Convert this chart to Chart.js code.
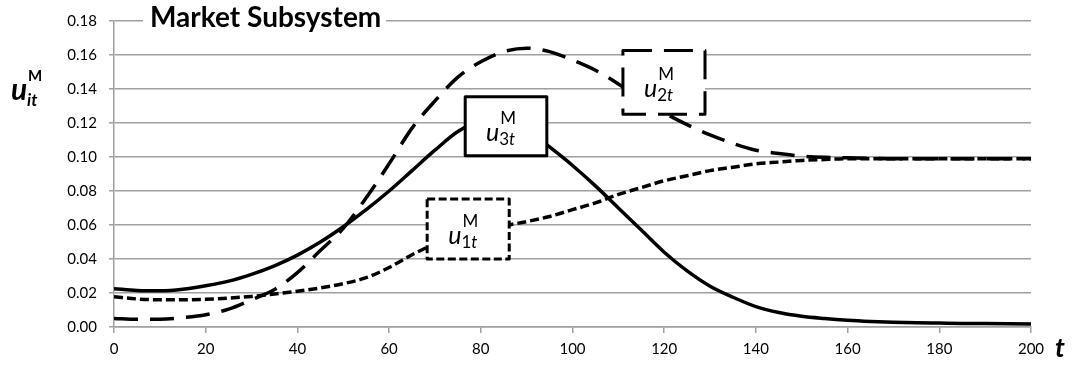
<!DOCTYPE html>
<html><head><meta charset="utf-8">
<script src="https://cdn.jsdelivr.net/npm/chart.js@4.4.1/dist/chart.umd.min.js"></script>
<style>html,body{margin:0;padding:0;background:#fff;}canvas{display:block;}</style>
</head><body>
<canvas id="c" width="1072" height="367"></canvas>
<script>
// ---- data ----
const tValues  = [0,5,10,15,20,25,30,35,40,45,50,55,60,65,70,75,80,85,90,95,100,105,110,115,120,125,130,135,140,145,150,155,160,165,170,175,180,185,190,195,200];
const u1Values = [0.0178,0.0165,0.0160,0.0160,0.0163,0.0170,0.0180,0.0194,0.0210,0.0230,0.0255,0.0290,0.0350,0.0425,0.0490,0.0540,0.0570,0.0595,0.0620,0.0650,0.0690,0.0730,0.0780,0.0820,0.0860,0.0890,0.0920,0.0940,0.0960,0.0970,0.0980,0.0985,0.0990,0.0990,0.0990,0.0990,0.0990,0.0990,0.0990,0.0990,0.0990];
const u2Values = [0.0050,0.0045,0.0045,0.0055,0.0072,0.0105,0.0160,0.0220,0.0320,0.0450,0.0580,0.0760,0.0960,0.1170,0.1330,0.1470,0.1560,0.1620,0.1640,0.1620,0.1570,0.1510,0.1430,0.1340,0.1260,0.1190,0.1130,0.1080,0.1040,0.1020,0.1005,0.0998,0.0995,0.0992,0.0990,0.0990,0.0990,0.0990,0.0990,0.0990,0.0990];
const u3Values = [0.0225,0.0215,0.0213,0.0222,0.0243,0.0270,0.0310,0.0360,0.0423,0.0500,0.0590,0.0690,0.0800,0.0920,0.1040,0.1150,0.1210,0.1220,0.1170,0.1060,0.0950,0.0830,0.0700,0.0570,0.0440,0.0330,0.0240,0.0175,0.0120,0.0085,0.0063,0.0050,0.0040,0.0033,0.0028,0.0025,0.0023,0.0021,0.0020,0.0019,0.0018];
const xTickValues = [0,20,40,60,80,100,120,140,160,180,200];
const yTickValues = [0,0.02,0.04,0.06,0.08,0.10,0.12,0.14,0.16,0.18];
const titleText = 'Market Subsystem';
const seriesLabels = ['1t','2t','3t'];

const GRID = '#a0a0a0';
const pts = vals => tValues.map((t,i)=>({x:t,y:vals[i]}));

function drawBox(ctx, chart, t0, t1, v0, v1, dash, sub){
  const xs = chart.scales.x, ys = chart.scales.y;
  const x0 = xs.getPixelForValue(t0), x1 = xs.getPixelForValue(t1);
  const y0 = ys.getPixelForValue(v1), y1 = ys.getPixelForValue(v0);
  ctx.save();
  ctx.fillStyle = '#fff';
  ctx.fillRect(x0, y0, x1-x0, y1-y0);
  ctx.setLineDash(dash);
  ctx.lineWidth = 3;
  ctx.strokeStyle = '#000';
  ctx.lineJoin = 'round';
  ctx.strokeRect(x0, y0, x1-x0, y1-y0);
  ctx.setLineDash([]);
  const cx = (x0+x1)/2, cy = (y0+y1)/2;
  const B = cy + 15, ux = cx - 20;
  ctx.fillStyle = '#000';
  ctx.textBaseline = 'alphabetic';
  ctx.font = 'italic 25px Lato';
  ctx.fillText('u', ux, B);
  const w = ctx.measureText('u').width;
  ctx.font = '17px Lato';
  ctx.fillText('M', ux + w + 1, B - 17);
  const num = sub.slice(0, -1);
  ctx.fillText(num, ux + w, B + 4);
  const w2 = ctx.measureText(num).width;
  ctx.font = 'italic 17px Lato';
  ctx.fillText('t', ux + w + w2, B + 4);
  ctx.restore();
}

const deco = {
  id: 'deco',
  beforeDraw(chart){
    const c = chart.ctx; c.save(); c.fillStyle = '#fff'; c.fillRect(0,0,chart.width,chart.height); c.restore();
  },
  afterDraw(chart){
    const ctx = chart.ctx;
    ctx.save();
    // title with white backing
    ctx.fillStyle = '#fff';
    ctx.fillRect(143, 2, 243, 30);
    ctx.font = 'bold 28px Lato';
    const tw = ctx.measureText(titleText).width;
    const fs = 28 * 231 / tw;
    ctx.font = 'bold ' + fs.toFixed(1) + 'px Lato';
    ctx.fillStyle = '#000';
    ctx.textBaseline = 'alphabetic';
    ctx.fillText(titleText, 150, 27);
    // y axis label
    ctx.font = 'italic bold 30px Lato';
    ctx.fillText('u', 11, 100);
    ctx.font = 'bold 15px Lato';
    ctx.fillText('M', 28, 81);
    ctx.font = 'italic bold 17px Lato';
    ctx.fillText('it', 27, 106);
    // x axis label
    ctx.font = 'italic bold 27px Lato';
    ctx.fillText('t', 1055, 357);
    ctx.restore();
    // annotation boxes
    drawBox(ctx, chart, 68.3, 86.2, 0.0400, 0.0753, [8,3.5], seriesLabels[0]);
    drawBox(ctx, chart, 76.6, 94.4, 0.1007, 0.1355, [], seriesLabels[2]);
    drawBox(ctx, chart, 111.0, 128.9, 0.1251, 0.1627, [29,12], seriesLabels[1]);
  }
};

new Chart(document.getElementById('c').getContext('2d'), {
  type: 'line',
  data: {
    datasets: [
      {label:'u3', data: pts(u3Values), borderColor:'#000', borderWidth:3.5, pointRadius:0, cubicInterpolationMode:'monotone', fill:false},
      {label:'u2', data: pts(u2Values), borderColor:'#000', borderWidth:3.5, pointRadius:0, cubicInterpolationMode:'monotone', fill:false, borderDash:[24,12]},
      {label:'u1', data: pts(u1Values), borderColor:'#000', borderWidth:3.5, pointRadius:0, cubicInterpolationMode:'monotone', fill:false, borderDash:[9,4]}
    ]
  },
  options: {
    responsive: false,
    devicePixelRatio: 1,
    animation: false,
    layout: {padding: {left:0, right:41, top:16, bottom:0}},
    plugins: {legend:{display:false}, tooltip:{enabled:false}, title:{display:false}},
    scales: {
      x: {
        type: 'linear', min: 0, max: 200,
        afterBuildTicks: s => { s.ticks = xTickValues.map(v => ({value:v})); },
        ticks: {font:{family:'Lato', size:15}, color:'#000', padding:7, maxRotation:0, autoSkip:false, callback: v => String(v)},
        grid: {drawOnChartArea:false, drawTicks:true, tickLength:6, color:GRID, lineWidth:1.5},
        border: {color:GRID, width:1.5},
        afterFit: s => { s.height = 40; }
      },
      y: {
        min: 0, max: 0.18,
        afterBuildTicks: s => { s.ticks = yTickValues.map(v => ({value:v})); },
        ticks: {font:{family:'Lato', size:15}, color:'#000', padding:12, callback: v => Number(v).toFixed(2)},
        grid: {color:GRID, lineWidth:1.5, tickLength:5},
        border: {color:GRID, width:1.5},
        afterFit: s => { s.width = 114; }
      }
    }
  },
  plugins: [deco]
});
</script>
</body></html>
